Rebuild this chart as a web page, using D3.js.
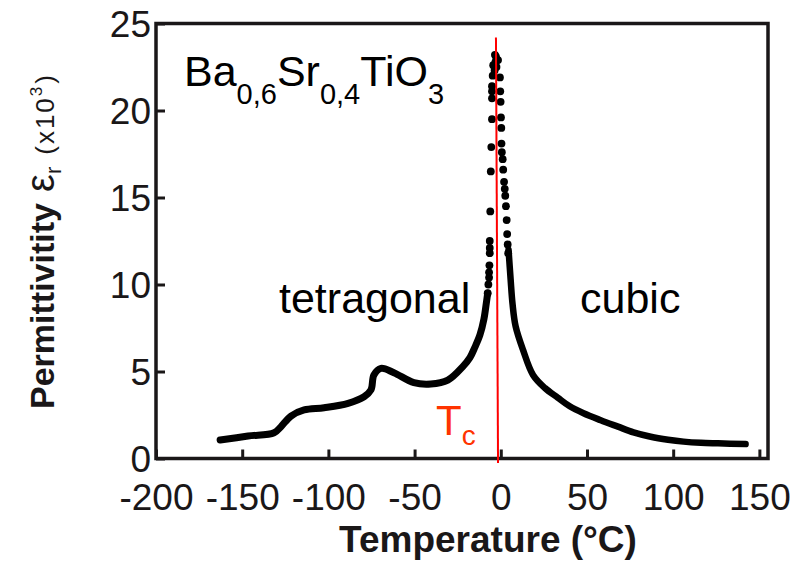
<!DOCTYPE html>
<html>
<head>
<meta charset="utf-8">
<script src="https://cdn.jsdelivr.net/npm/d3@7"></script>
<style>
  body { margin: 0; background: #fff; }
  text { font-family: "Liberation Sans", Arial, Helvetica, sans-serif; }
</style>
</head>
<body>
<svg width="807" height="563"></svg>
<script>
// tetragonal side, continuous trace (°C, x10^3)
const lowTemp = [-162.8, -146.6, -131.5, -127.5, -121.7, -114.1, -102.5, -88.6, -79.3, -75.3, -73.6, -69.5, -62.0, -50.4, -40.6, -30.7, -21.9, -17.9, -15.0, -12.1, -9.8, -8.3, -7.6]
const lowEps  = [1.06, 1.29, 1.48, 1.83, 2.44, 2.79, 2.92, 3.17, 3.55, 3.94, 4.80, 5.18, 4.93, 4.36, 4.28, 4.51, 5.3, 5.8, 6.4, 7.1, 8.0, 9.0, 9.5]

// cubic side, continuous trace
const highTemp = [4.5, 5.7, 6.8, 8.6, 12.9, 18.7, 25.6, 33, 40, 48, 58, 68, 77, 87, 97, 106, 116, 126, 142]
const highEps  = [12.0, 10.3, 8.9, 7.6, 6.24, 4.8, 4.05, 3.5, 3.0, 2.6, 2.2, 1.83, 1.5, 1.25, 1.08, 0.97, 0.9, 0.87, 0.83]

// separate points near the peak
const dotTemp = [-7.6, -7.2, -6.8, -6.8, -6.6, -6.4, -6.4, -6.4, -6.1, -5.8, -5.5, -5.1, -5.1, -5.1, -5.1, -4.7, -4.4,
                 -3.6, -3.4, -3.1, -2.8, -2.5, -2.2,
                 -1.6, -0.5, -0.3, -0.1, 0.1, 0.3, 0.4, 0.6, 1.1, 1.4, 1.9, 2.3, 2.6, 3.0, 3.4, 3.7, 4.0, 4.3]
const dotEps  = [9.5, 10.0, 10.4, 10.7, 11.1, 11.8, 12.1, 12.5, 14.2, 16.5, 17.9, 19.5, 20.7, 21.1, 21.4, 22.0, 22.6,
                 22.3, 23.2, 22.8, 23.1, 22.5, 22.9,
                 22.9, 21.9, 21.1, 20.5, 19.6, 19.0, 18.1, 17.6, 17.2, 16.6, 15.9, 15.5, 15.1, 14.5, 13.7, 12.9, 12.3, 11.8]

// Tc marker line
const tcTemp = [-2.8, -1.6]
const tcEps  = [24.2, -0.26]

const xTicks = [-200, -150, -100, -50, 0, 50, 100, 150]
const yTicks = [0, 5, 10, 15, 20, 25]

const svg = d3.select("svg")
const plotLeft = 156, plotRight = 768, plotTop = 23.5, plotBottom = 458.5

const x = d3.scaleLinear().domain([-200, 155]).range([plotLeft, plotRight])
const y = d3.scaleLinear().domain([0, 25]).range([plotBottom, plotTop])

const ink = "#1a1718"

// axes (ticks point inwards), plain hyphen for negatives
const xAxis = svg.append("g")
    .attr("transform", `translate(0,${plotBottom})`)
    .call(d3.axisBottom(x).tickValues(xTicks).tickFormat(d => String(d))
        .tickSizeInner(-9).tickSizeOuter(0).tickPadding(0))
xAxis.select(".domain").remove()
xAxis.selectAll("line").attr("stroke", ink).attr("stroke-width", 3)
xAxis.selectAll("text")
    .attr("y", 51).attr("dy", 0)
    .attr("fill", ink)
    .style("font-size", "37px")
    .style("font-family", "'Liberation Sans', Arial, sans-serif")

const yAxis = svg.append("g")
    .attr("transform", `translate(${plotLeft},0)`)
    .call(d3.axisLeft(y).tickValues(yTicks).tickFormat(d => String(d))
        .tickSizeInner(-9).tickSizeOuter(0).tickPadding(0))
yAxis.select(".domain").remove()
yAxis.selectAll("line").attr("stroke", ink).attr("stroke-width", 3)
yAxis.selectAll("text")
    .attr("x", -5).attr("dy", "0.36em")
    .attr("fill", ink)
    .style("font-size", "37px")
    .style("font-family", "'Liberation Sans', Arial, sans-serif")

// frame
svg.append("rect")
    .attr("x", plotLeft).attr("y", plotTop)
    .attr("width", plotRight - plotLeft).attr("height", plotBottom - plotTop)
    .attr("fill", "none")
    .attr("stroke", ink)
    .attr("stroke-width", 3.5)

// data
const line = d3.line()
    .x(d => x(d[0]))
    .y(d => y(d[1]))
    .curve(d3.curveCatmullRom)

svg.append("path")
    .datum(d3.zip(lowTemp, lowEps))
    .attr("d", line)
    .attr("fill", "none")
    .attr("stroke", "#000")
    .attr("stroke-width", 7)
    .attr("stroke-linecap", "round")
    .attr("stroke-linejoin", "round")

svg.append("path")
    .datum(d3.zip(highTemp, highEps))
    .attr("d", line)
    .attr("fill", "none")
    .attr("stroke", "#000")
    .attr("stroke-width", 6.5)
    .attr("stroke-linecap", "round")
    .attr("stroke-linejoin", "round")

svg.append("g").selectAll("circle")
    .data(d3.zip(dotTemp, dotEps))
    .enter().append("circle")
    .attr("cx", d => x(d[0]))
    .attr("cy", d => y(d[1]))
    .attr("r", 3.9)
    .attr("fill", "#000")

// Tc line
svg.append("line")
    .attr("x1", x(tcTemp[0])).attr("y1", y(tcEps[0]))
    .attr("x2", x(tcTemp[1])).attr("y2", y(tcEps[1]))
    .attr("stroke", "#ff0000")
    .attr("stroke-width", 2)

const tc = svg.append("text")
    .attr("x", 436).attr("y", 435)
    .attr("fill", "#ff3300")
    .style("font-size", "42px")
tc.append("tspan").text("T")
tc.append("tspan").text("c").style("font-size", "28px").attr("dy", 10)

// labels
svg.append("text").attr("x", 279).attr("y", 313).style("font-size", "43px").text("tetragonal")
svg.append("text").attr("x", 580).attr("y", 313).style("font-size", "43px").text("cubic")

const formula = svg.append("text")
    .attr("x", 184).attr("y", 86)
    .style("font-size", "43px")
formula.append("tspan").text("Ba")
formula.append("tspan").text("0,6").style("font-size", "29px").attr("dy", 18)
formula.append("tspan").text("Sr").attr("dy", -18)
formula.append("tspan").text("0,4").style("font-size", "29px").attr("dy", 18)
formula.append("tspan").text("TiO").attr("dy", -18)
formula.append("tspan").text("3").style("font-size", "29px").attr("dy", 18)

svg.append("text")
    .attr("x", 488).attr("y", 552)
    .attr("text-anchor", "middle")
    .style("font-size", "37px")
    .style("font-weight", "bold")
    .attr("fill", ink)
    .text("Temperature (°C)")

const ylab = svg.append("text")
    .attr("transform", "translate(54,409) rotate(-90)")
    .attr("fill", ink)
    .style("font-size", "34px")
ylab.append("tspan").text("Permittivitity").style("font-weight", "bold")
ylab.append("tspan").text(" ε").style("font-size", "40px")
ylab.append("tspan").text("r").style("font-size", "22px").attr("dy", 7)
ylab.append("tspan").text("(x10").style("font-size", "26px").style("letter-spacing", "2px").attr("dy", -7).attr("dx", 12)
ylab.append("tspan").text("3").style("font-size", "17px").attr("dy", -12)
ylab.append("tspan").text(")").style("font-size", "26px").attr("dy", 12).attr("dx", 3)
</script>
</body>
</html>
